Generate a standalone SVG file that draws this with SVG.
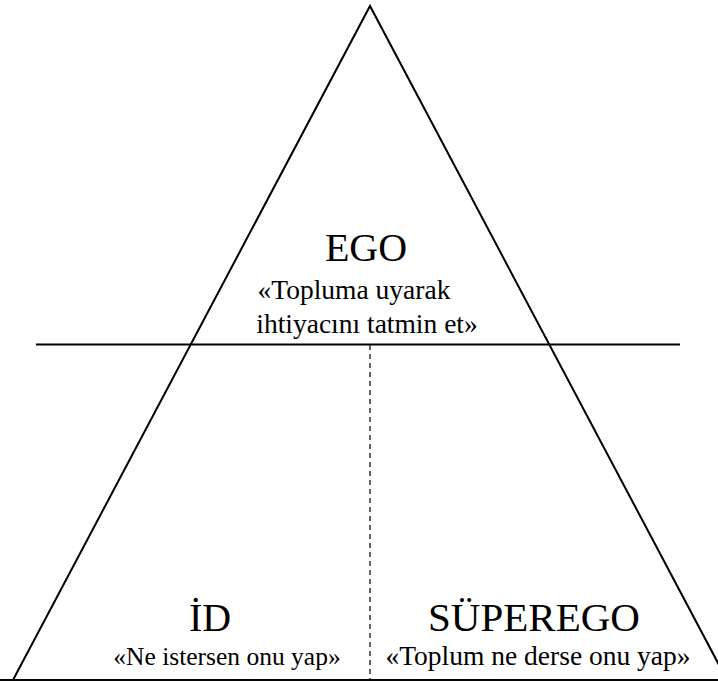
<svg xmlns="http://www.w3.org/2000/svg" width="718" height="682" viewBox="0 0 718 682">
<style>
.ln{stroke:#000;stroke-width:2;fill:none}
.dash{stroke:#000;stroke-width:1.2;stroke-dasharray:5,4;fill:none}
text{font-family:'Liberation Serif','Times New Roman',serif;fill:#000;text-anchor:middle}
.big{font-size:40px}
.sm{font-size:27.5px}
</style>
<rect width="718" height="682" fill="#fff"/>
<g id="connectors">
<polyline class="ln" points="13,680 370,6 727,680"/>
<line class="ln" x1="0" y1="680" x2="718" y2="680"/>
<line class="ln" x1="36" y1="344.5" x2="680" y2="344.5"/>
<line class="dash" x1="370" y1="345" x2="370" y2="680"/>
</g>
<g id="ego">
<text class="big" x="366" y="261">EGO</text>
<text class="sm" x="354" y="299">«Topluma uyarak</text>
<text class="sm" x="367" y="333">ihtiyacını tatmin et»</text>
</g>
<g id="id">
<text class="big" x="210" y="631">İD</text>
<text class="sm" x="227" y="665" style="font-size:25.5px">«Ne istersen onu yap»</text>
</g>
<g id="superego">
<text class="big" x="534" y="631" style="font-size:41px">SÜPEREGO</text>
<text class="sm" x="538" y="665">«Toplum ne derse onu yap»</text>
</g>
</svg>
